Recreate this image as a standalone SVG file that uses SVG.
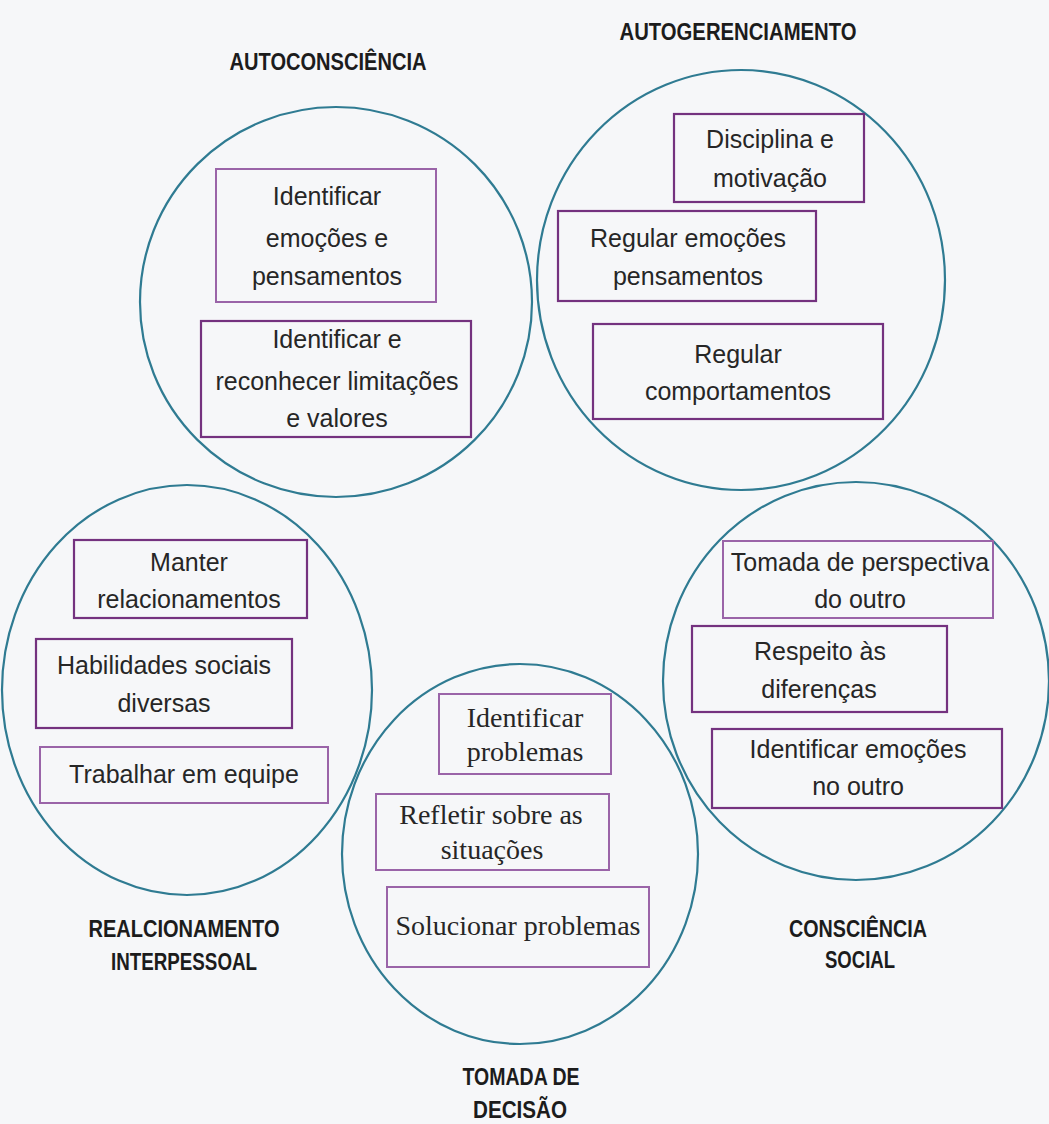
<svg xmlns="http://www.w3.org/2000/svg" width="1049" height="1124" viewBox="0 0 1049 1124">
<style>
.bg{fill:#f6f7f9}
.ring{fill:none;stroke:#2f7b92;stroke-width:2.2}
.box{fill:none;stroke:#9a64a8;stroke-width:2}
.boxd{fill:none;stroke:#74327f;stroke-width:2.2}
.t{font-family:"Liberation Sans",Arial,sans-serif;font-size:25px;fill:#262626;text-anchor:middle}
.ts{font-family:"Liberation Serif","Times New Roman",serif;font-size:28px;fill:#262626;text-anchor:middle}
.h{font-family:"Liberation Sans",Arial,sans-serif;font-size:23px;font-weight:bold;fill:#1c1c1c;text-anchor:middle}
</style>
<rect class="bg" x="0" y="0" width="1049" height="1124"/>

<g id="autoconsciencia">
<ellipse class="ring" cx="336" cy="302" rx="196" ry="195"/>
<text class="h" x="328" y="70" textLength="197" lengthAdjust="spacingAndGlyphs">AUTOCONSCIÊNCIA</text>
<rect class="box" x="216" y="169" width="220" height="133"/>
<text class="t" x="327" y="205">Identificar</text>
<text class="t" x="327" y="247">emoções e</text>
<text class="t" x="327" y="285">pensamentos</text>
<rect class="boxd" x="201" y="321" width="270" height="116"/>
<text class="t" x="337" y="348">Identificar e</text>
<text class="t" x="337" y="390">reconhecer limitações</text>
<text class="t" x="337" y="427">e valores</text>
</g>

<g id="autogerenciamento">
<ellipse class="ring" cx="741" cy="280" rx="204" ry="210"/>
<text class="h" x="738" y="40" textLength="237" lengthAdjust="spacingAndGlyphs">AUTOGERENCIAMENTO</text>
<rect class="boxd" x="674" y="114" width="190" height="88"/>
<text class="t" x="770" y="148">Disciplina e</text>
<text class="t" x="770" y="187">motivação</text>
<rect class="boxd" x="558" y="211" width="258" height="90"/>
<text class="t" x="688" y="247">Regular emoções</text>
<text class="t" x="688" y="285">pensamentos</text>
<rect class="boxd" x="593" y="324" width="290" height="95"/>
<text class="t" x="738" y="363">Regular</text>
<text class="t" x="738" y="400">comportamentos</text>
</g>

<g id="relacionamento">
<ellipse class="ring" cx="187" cy="690" rx="185" ry="205"/>
<text class="h" x="184" y="937" textLength="191" lengthAdjust="spacingAndGlyphs">REALCIONAMENTO</text>
<text class="h" x="184" y="970" textLength="146" lengthAdjust="spacingAndGlyphs">INTERPESSOAL</text>
<rect class="boxd" x="74" y="540" width="233" height="78"/>
<text class="t" x="189" y="571">Manter</text>
<text class="t" x="189" y="608">relacionamentos</text>
<rect class="boxd" x="36" y="639" width="256" height="89"/>
<text class="t" x="164" y="674">Habilidades sociais</text>
<text class="t" x="164" y="712">diversas</text>
<rect class="box" x="40" y="747" width="288" height="56"/>
<text class="t" x="184" y="783">Trabalhar em equipe</text>
</g>

<g id="tomada-decisao">
<ellipse class="ring" cx="520" cy="854" rx="178" ry="190"/>
<text class="h" x="521" y="1085" textLength="117" lengthAdjust="spacingAndGlyphs">TOMADA DE</text>
<text class="h" x="520" y="1118" textLength="94" lengthAdjust="spacingAndGlyphs">DECISÃO</text>
<rect class="box" x="439" y="694" width="172" height="80"/>
<text class="ts" x="525" y="727">Identificar</text>
<text class="ts" x="525" y="761">problemas</text>
<rect class="box" x="376" y="794" width="233" height="76"/>
<text class="ts" x="491" y="824">Refletir sobre as</text>
<text class="ts" x="492" y="859">situações</text>
<rect class="box" x="387" y="887" width="262" height="80"/>
<text class="ts" x="518" y="935">Solucionar problemas</text>
</g>

<g id="consciencia-social">
<ellipse class="ring" cx="856" cy="681" rx="193" ry="199"/>
<text class="h" x="858" y="937" textLength="138" lengthAdjust="spacingAndGlyphs">CONSCIÊNCIA</text>
<text class="h" x="860" y="968" textLength="70" lengthAdjust="spacingAndGlyphs">SOCIAL</text>
<rect class="box" x="723" y="541" width="270" height="77"/>
<text class="t" x="860" y="571">Tomada de perspectiva</text>
<text class="t" x="860" y="608">do outro</text>
<rect class="boxd" x="692" y="626" width="255" height="86"/>
<text class="t" x="820" y="660">Respeito às</text>
<text class="t" x="819" y="698">diferenças</text>
<rect class="boxd" x="712" y="729" width="290" height="79"/>
<text class="t" x="858" y="758">Identificar emoções</text>
<text class="t" x="858" y="795">no outro</text>
</g>

<g id="connectors"></g>
</svg>
